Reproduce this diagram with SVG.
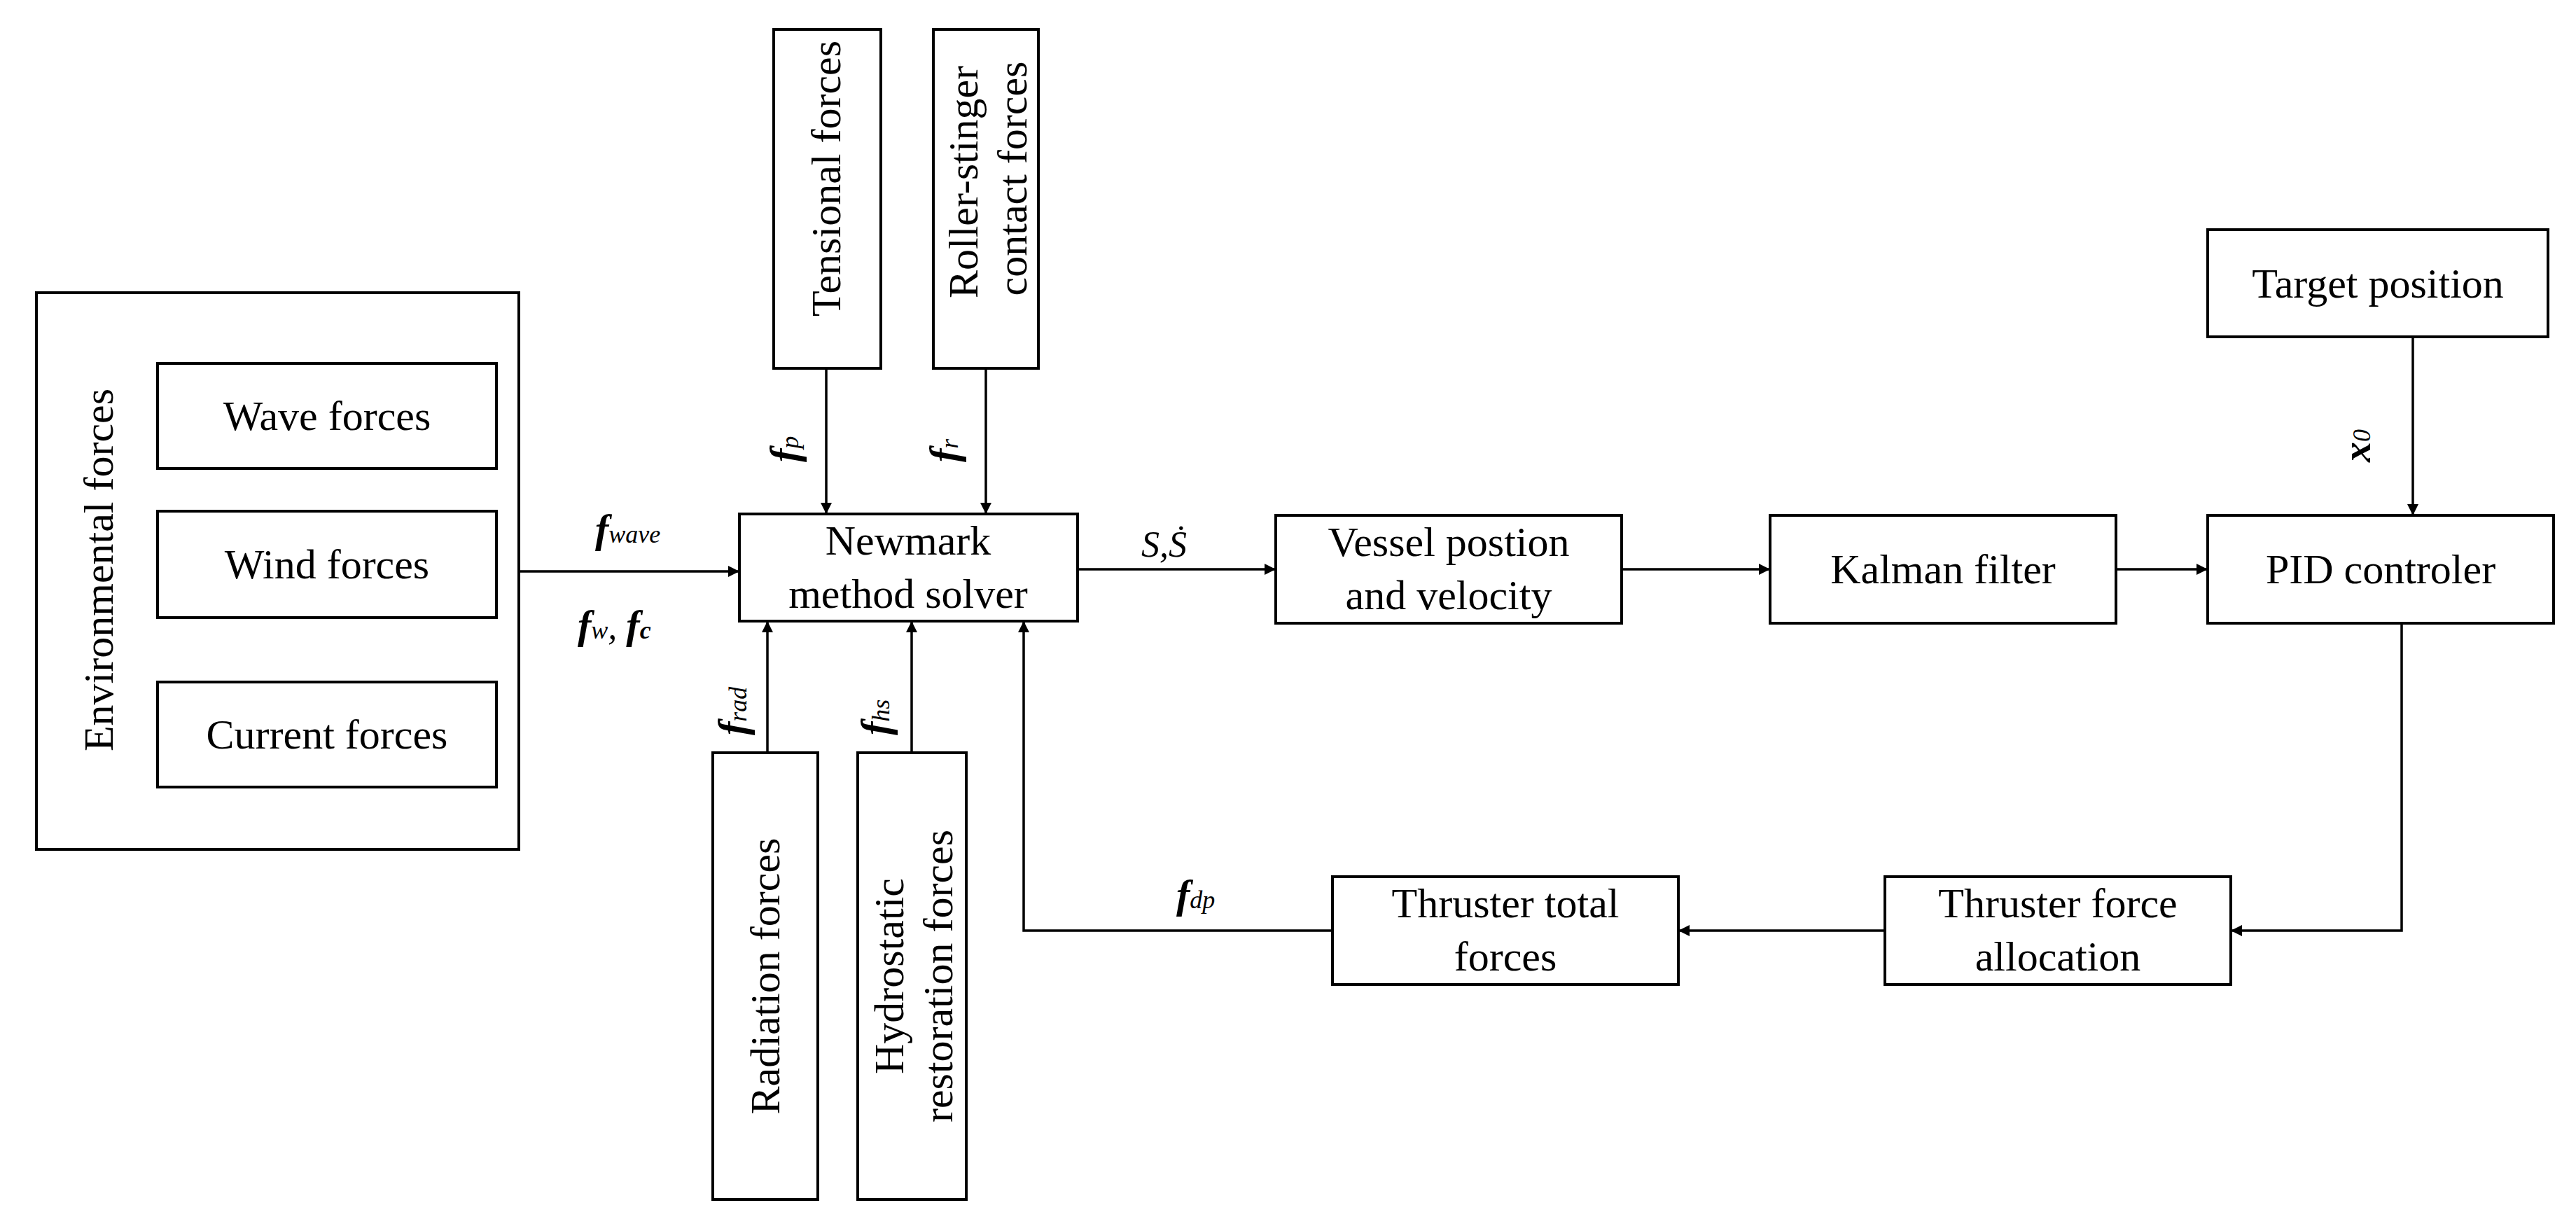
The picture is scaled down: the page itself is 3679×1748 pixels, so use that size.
<svg xmlns="http://www.w3.org/2000/svg" width="3679" height="1748" viewBox="0 0 3679 1748">
<style>
.b{fill:#fff;stroke:#000;stroke-width:4}
.t{font-family:"Liberation Serif",serif;font-size:60px;text-anchor:middle;dominant-baseline:central}
.l{font-family:"Liberation Serif",serif;font-style:italic;font-size:52px}
.bf{font-weight:bold;font-size:58px}
.s{font-size:36px}
.c{fill:none;stroke:#000;stroke-width:3.5}
</style>
<defs><marker id="a" viewBox="0 0 10 10" refX="10" refY="5" markerWidth="16" markerHeight="16" markerUnits="userSpaceOnUse" orient="auto"><path d="M0,0L10,5L0,10z"/></marker>
<marker id="a2" viewBox="0 0 10 10" refX="10" refY="5" markerWidth="14" markerHeight="14" orient="auto" markerUnits="userSpaceOnUse"><path d="M0,0L10,5L0,10z"/></marker></defs>
<g id="env"><rect class="b" x="52" y="418" width="689" height="795"/><text class="t" transform="translate(141,814) rotate(-90)">Environmental forces</text></g>
<g id="wave"><rect class="b" x="225" y="519" width="484" height="150"/><text class="t" x="467" y="594">Wave forces</text></g>
<g id="wind"><rect class="b" x="225" y="730" width="484" height="152"/><text class="t" x="467" y="806">Wind forces</text></g>
<g id="current"><rect class="b" x="225" y="974" width="484" height="150"/><text class="t" x="467" y="1049">Current forces</text></g>
<g id="tension"><rect class="b" x="1105" y="42" width="153" height="484"/><text class="t" transform="translate(1180,255) rotate(-90)">Tensional forces</text></g>
<g id="roller"><rect class="b" x="1333" y="42" width="150" height="484"/><text class="t" transform="translate(1376,260) rotate(-90)">Roller-stinger</text><text class="t" transform="translate(1446,255) rotate(-90)">contact forces</text></g>
<g id="newmark"><rect class="b" x="1056" y="734" width="483" height="153"/><text class="t" x="1297" y="772">Newmark</text><text class="t" x="1297" y="848">method solver</text></g>
<g id="radiation"><rect class="b" x="1018" y="1075" width="150" height="638"/><text class="t" transform="translate(1093,1394) rotate(-90)">Radiation forces</text></g>
<g id="hydro"><rect class="b" x="1225" y="1075" width="155" height="638"/><text class="t" transform="translate(1270,1394) rotate(-90)">Hydrostatic</text><text class="t" transform="translate(1340,1394) rotate(-90)">restoration forces</text></g>
<g id="vessel"><rect class="b" x="1822" y="736" width="494" height="154"/><text class="t" x="2069" y="774">Vessel postion</text><text class="t" x="2069" y="850">and velocity</text></g>
<g id="kalman"><rect class="b" x="2528" y="736" width="494" height="154"/><text class="t" x="2775" y="813">Kalman filter</text></g>
<g id="pid"><rect class="b" x="3183" y="736" width="494" height="154" transform="translate(-30,0)"/><text class="t" x="3400" y="813">PID controler</text></g>
<g id="target"><rect class="b" x="3153" y="328" width="486" height="153"/><text class="t" x="3396" y="405">Target position</text></g>
<g id="alloc"><rect class="b" x="2692" y="1252" width="494" height="154"/><text class="t" x="2939" y="1290">Thruster force</text><text class="t" x="2939" y="1366">allocation</text></g>
<g id="total"><rect class="b" x="1903" y="1252" width="494" height="154"/><text class="t" x="2150" y="1290">Thruster total</text><text class="t" x="2150" y="1366">forces</text></g>
<g id="connectors">
<path class="c" d="M741,816H1056" marker-end="url(#a)"/>
<path class="c" d="M1180,526V734" marker-end="url(#a)"/>
<path class="c" d="M1408,526V734" marker-end="url(#a)"/>
<path class="c" d="M1096,1075V887" marker-end="url(#a)"/>
<path class="c" d="M1302,1075V887" stroke="#777" marker-end="url(#a)"/>
<path class="c" d="M1539,813H1822" marker-end="url(#a)"/>
<path class="c" d="M2316,813H2528" marker-end="url(#a)"/>
<path class="c" d="M3022,813H3153" marker-end="url(#a)"/>
<path class="c" d="M3446,481V736" marker-end="url(#a)"/>
<path class="c" d="M3430,890V1329H3186" marker-end="url(#a)"/>
<path class="c" d="M2692,1329H2397" marker-end="url(#a)"/>
<path class="c" d="M1903,1329H1462V887" marker-end="url(#a)"/>
</g>
<g id="labels">
<text class="l" x="850" y="775"><tspan class="bf">f</tspan><tspan class="s">wave</tspan></text>
<text class="l" x="825" y="912"><tspan class="bf">f</tspan><tspan class="s">w</tspan>,  <tspan class="bf">f</tspan><tspan class="s" font-weight="bold">c</tspan></text>
<text class="l" transform="translate(1140,660) rotate(-90)"><tspan class="bf">f</tspan><tspan class="s">p</tspan></text>
<text class="l" transform="translate(1368,660) rotate(-90)"><tspan class="bf">f</tspan><tspan class="s">r</tspan></text>
<text class="l" transform="translate(1066,1050) rotate(-90)"><tspan class="bf">f</tspan><tspan class="s">rad</tspan></text>
<text class="l" transform="translate(1270,1050) rotate(-90)"><tspan class="bf">f</tspan><tspan class="s">hs</tspan></text>
<text class="l" x="1630" y="795" font-size="40">S,Ṡ</text>
<text class="l" x="1680" y="1297"><tspan class="bf">f</tspan><tspan class="s">dp</tspan></text>
<text class="l" transform="translate(3385,660) rotate(-90)"><tspan class="bf">x</tspan><tspan class="s">0</tspan></text>
</g>
</svg>
